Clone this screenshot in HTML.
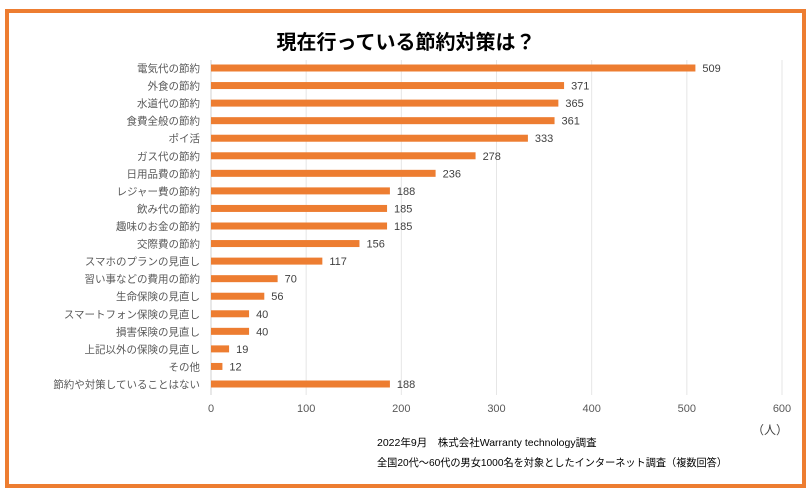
<!DOCTYPE html>
<html><head><meta charset="utf-8"><style>
body{margin:0;background:#fff;}
svg text{font-family:"Liberation Sans","Noto Sans CJK JP",sans-serif;}
</style></head><body>
<svg width="812" height="491" xmlns="http://www.w3.org/2000/svg">
<rect x="7" y="11" width="797" height="475" fill="#fff" stroke="#ed7d31" stroke-width="4"/>
<text x="406" y="49" text-anchor="middle" font-size="20" font-weight="bold" fill="#000">現在行っている節約対策は？</text>
<g id="grid"></g><g id="bars"></g>
<text x="770" y="434" text-anchor="middle" font-size="12" fill="#404040">（人）</text>
<text x="377" y="446" font-size="10.5" fill="#000">2022年9月　株式会社Warranty technology調査</text>
<text x="377" y="466" font-size="10.5" fill="#000" textLength="350" lengthAdjust="spacingAndGlyphs">全国20代～60代の男女1000名を対象としたインターネット調査（複数回答）</text>
</svg>
<script>
const categories=["電気代の節約","外食の節約","水道代の節約","食費全般の節約","ポイ活","ガス代の節約","日用品費の節約","レジャー費の節約","飲み代の節約","趣味のお金の節約","交際費の節約","スマホのプランの見直し","習い事などの費用の節約","生命保険の見直し","スマートフォン保険の見直し","損害保険の見直し","上記以外の保険の見直し","その他","節約や対策していることはない"];
const values=[509,371,365,361,333,278,236,188,185,185,156,117,70,56,40,40,19,12,188];
const ticks=[0,100,200,300,400,500,600];
const NS="http://www.w3.org/2000/svg";
const x=v=>211+v*(571/600);
const y=i=>68+i*(316/18);
const grid=document.getElementById('grid'),bars=document.getElementById('bars');
function mk(tag,attrs,parent,txt){const e=document.createElementNS(NS,tag);for(const k in attrs)e.setAttribute(k,attrs[k]);if(txt!==undefined)e.textContent=txt;parent.appendChild(e);return e;}
ticks.forEach(t=>{
 const l=mk('line',{x1:x(t),x2:x(t),y1:60,y2:395,stroke:t===0?'#d0d0d0':'#e6e6e6','stroke-width':1},grid);
 
 
 const tx=mk('text',{x:x(t),y:412,'text-anchor':'middle','font-size':11,fill:'#595959'},grid,t);
 
 
});
categories.forEach((c,i)=>{
 const lb=mk('text',{x:200,y:y(i)+4,'text-anchor':'end','font-size':10.5,fill:'#595959'},bars,c);
 
 
 const r=mk('rect',{x:x(0),y:y(i)-3.5,width:x(values[i])-x(0),height:7,fill:'#ed7d31'},bars);
 
 
 const v=mk('text',{x:x(values[i])+7,y:y(i)+4,'font-size':11,fill:'#404040'},bars,values[i]);
 
 
});
</script>
</body></html>
